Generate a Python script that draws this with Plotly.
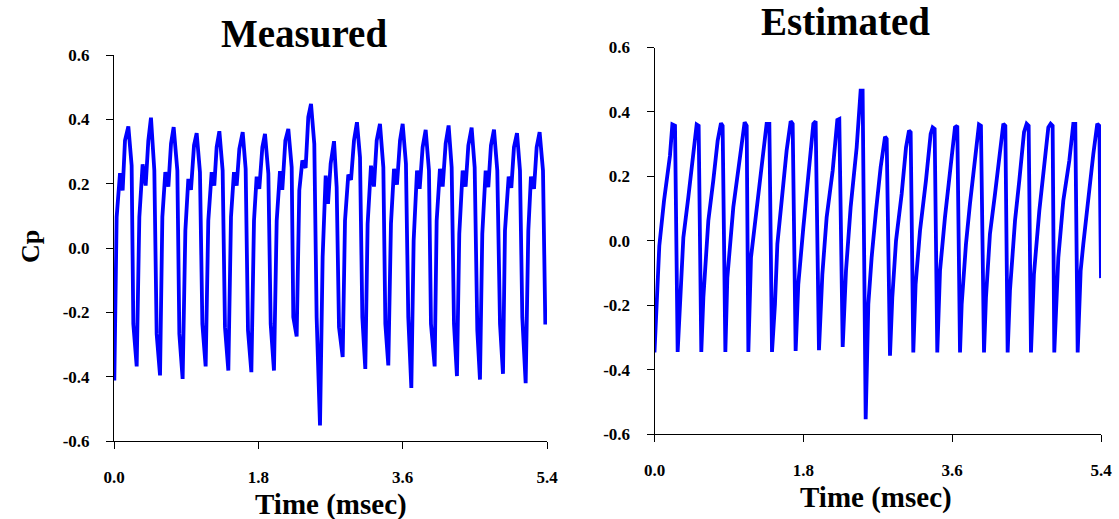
import plotly.graph_objects as go

# ---- Measured (left) ----
t_measured = [0.004, 0.033, 0.075, 0.108, 0.137, 0.179, 0.220, 0.241, 0.283,
              0.316, 0.357, 0.395, 0.428, 0.461, 0.503, 0.532, 0.574,
              0.603, 0.640, 0.678, 0.711, 0.744, 0.790, 0.815, 0.856,
              0.890, 0.927, 0.960, 0.998, 1.031, 1.072, 1.102, 1.143,
              1.176, 1.218, 1.251, 1.280, 1.314, 1.355, 1.384, 1.426,
              1.459, 1.496, 1.530, 1.563, 1.605, 1.642, 1.671, 1.713,
              1.746, 1.779, 1.812, 1.850, 1.883, 1.925, 1.954, 1.995,
              2.029, 2.070, 2.099, 2.137, 2.174, 2.216, 2.236, 2.278,
              2.311, 2.349, 2.390, 2.423, 2.457, 2.498, 2.527, 2.569,
              2.602, 2.640, 2.669, 2.702, 2.744, 2.777, 2.806, 2.852,
              2.881, 2.922, 2.956, 2.993, 3.030, 3.068, 3.097, 3.134,
              3.163, 3.205, 3.242, 3.276, 3.317, 3.359, 3.384, 3.421,
              3.454, 3.492, 3.529, 3.567, 3.600, 3.641, 3.670, 3.708,
              3.737, 3.779, 3.812, 3.849, 3.887, 3.928, 3.953, 3.999,
              4.024, 4.065, 4.099, 4.136, 4.173, 4.211, 4.240, 4.277,
              4.306, 4.348, 4.385, 4.419, 4.460, 4.498, 4.531, 4.564,
              4.593, 4.635, 4.668, 4.701, 4.739, 4.780, 4.814, 4.851,
              4.876, 4.922, 4.955, 4.988, 5.026, 5.063, 5.092, 5.134,
              5.167, 5.200, 5.238, 5.271, 5.308, 5.350, 5.379]
cp_measured = [-0.412, 0.096, 0.233, 0.179, 0.334, 0.378, 0.256, -0.236, -0.368,
               0.096, 0.260, 0.194, 0.334, 0.405, 0.241, -0.267, -0.396,
               0.096, 0.236, 0.191, 0.324, 0.376, 0.241, -0.267, -0.407,
               0.054, 0.215, 0.181, 0.319, 0.357, 0.236, -0.236, -0.368,
               0.085, 0.236, 0.194, 0.313, 0.363, 0.241, -0.246, -0.381,
               0.096, 0.236, 0.194, 0.308, 0.360, 0.246, -0.256, -0.386,
               0.085, 0.222, 0.184, 0.313, 0.355, 0.231, -0.236, -0.381,
               0.085, 0.239, 0.181, 0.334, 0.370, 0.251, -0.215, -0.275,
               0.179, 0.272, 0.249, 0.407, 0.448, 0.324, -0.215, -0.552,
               -0.028, 0.225, 0.137, 0.262, 0.332, 0.189, -0.246, -0.339,
               0.085, 0.228, 0.212, 0.334, 0.391, 0.282, -0.215, -0.376,
               0.075, 0.256, 0.191, 0.334, 0.386, 0.251, -0.236, -0.365,
               0.075, 0.246, 0.197, 0.334, 0.386, 0.262, -0.215, -0.435,
               0.023, 0.241, 0.184, 0.313, 0.367, 0.241, -0.236, -0.368,
               0.085, 0.246, 0.191, 0.324, 0.381, 0.251, -0.236, -0.398,
               0.044, 0.241, 0.191, 0.319, 0.374, 0.251, -0.256, -0.409,
               0.044, 0.241, 0.189, 0.319, 0.368, 0.241, -0.236, -0.391,
               0.054, 0.222, 0.187, 0.313, 0.357, 0.241, -0.215, -0.420,
               0.054, 0.222, 0.184, 0.313, 0.360, 0.241, -0.238]

# ---- Estimated (right) ----
t_estimated = [0.000, 0.058, 0.115, 0.187, 0.216, 0.248, 0.280,
               0.308, 0.349, 0.409, 0.462, 0.510, 0.534, 0.566,
               0.591, 0.651, 0.711, 0.764, 0.804, 0.824, 0.857,
               0.881, 0.953, 1.018, 1.066, 1.090, 1.115, 1.135,
               1.167, 1.236, 1.308, 1.356, 1.389, 1.421,
               1.457, 1.486, 1.538, 1.598, 1.647, 1.671, 1.707,
               1.739, 1.800, 1.860, 1.921, 1.949, 1.989,
               2.030, 2.082, 2.155, 2.211, 2.235, 2.276,
               2.316, 2.372, 2.445, 2.493, 2.517, 2.554,
               2.586, 2.626, 2.679, 2.735, 2.788, 2.808, 2.848,
               2.876, 2.921, 2.989, 3.042, 3.078, 3.098, 3.130,
               3.158, 3.211, 3.283, 3.340, 3.364, 3.388, 3.420,
               3.453, 3.513, 3.582, 3.634, 3.662, 3.695,
               3.715, 3.767, 3.815, 3.876, 3.924, 3.948, 3.985,
               4.009, 4.057, 4.118, 4.178, 4.219, 4.243, 4.271,
               4.299, 4.360, 4.412, 4.469, 4.501, 4.525, 4.553,
               4.589, 4.654, 4.710, 4.763, 4.791, 4.815, 4.835,
               4.884, 4.944, 5.017, 5.065, 5.089, 5.118,
               5.154, 5.186, 5.247, 5.307, 5.355, 5.380, 5.400]
cp_estimated = [-0.347, -0.016, 0.124, 0.264, 0.361, 0.357, -0.345,
                -0.197, 0.010, 0.135, 0.259, 0.361, 0.357, -0.345,
                -0.176, 0.062, 0.187, 0.311, 0.365, 0.357, -0.345,
                -0.114, 0.104, 0.228, 0.332, 0.368, 0.357, -0.345,
                -0.052, 0.093, 0.249, 0.363, 0.363, -0.345,
                -0.197, -0.010, 0.124, 0.280, 0.371, 0.363, -0.342,
                -0.135, 0.041, 0.187, 0.363, 0.371, -0.340,
                -0.104, 0.073, 0.218, 0.375, 0.378, -0.330,
                -0.093, 0.104, 0.290, 0.466, 0.466, -0.554,
                -0.197, -0.052, 0.093, 0.228, 0.323, 0.316, -0.357,
                -0.176, 0.000, 0.145, 0.290, 0.342, 0.337, -0.347,
                -0.135, 0.031, 0.187, 0.332, 0.352, 0.347, -0.347,
                -0.093, 0.073, 0.228, 0.352, 0.357, -0.347,
                -0.197, -0.010, 0.114, 0.259, 0.361, 0.357, -0.347,
                -0.176, 0.021, 0.145, 0.269, 0.363, 0.357, -0.347,
                -0.155, 0.062, 0.187, 0.337, 0.363, 0.357, -0.347,
                -0.104, 0.093, 0.228, 0.352, 0.363, 0.357, -0.347,
                -0.052, 0.124, 0.249, 0.363, 0.363, -0.347,
                -0.093, -0.010, 0.135, 0.269, 0.363, 0.357, -0.116]

titles = ["Measured", "Estimated"]
x_title = "Time (msec)"
y_title = "Cp"
x_ticks = [0.0, 1.8, 3.6, 5.4]
x_ticklabels = ["0.0", "1.8", "3.6", "5.4"]
y_ticks = [-0.6, -0.4, -0.2, 0.0, 0.2, 0.4, 0.6]
y_ticklabels = ["-0.6", "-0.4", "-0.2", "0.0", "0.2", "0.4", "0.6"]

W, H = 1119, 519
FONT = "Liberation Serif, Times New Roman, serif"
BLUE = "#0000FF"

fig = go.Figure()
fig.add_trace(go.Scatter(x=t_measured, y=cp_measured, mode="lines",
                         line=dict(color=BLUE, width=3.8), xaxis="x", yaxis="y",
                         showlegend=False, hoverinfo="skip"))
fig.add_trace(go.Scatter(x=t_estimated, y=cp_estimated, mode="lines",
                         line=dict(color=BLUE, width=3.8), xaxis="x2", yaxis="y2",
                         showlegend=False, hoverinfo="skip"))

def px(x):
    return x / W

def py(y):
    return 1 - y / H

bold = lambda s: "<b>" + s + "</b>"
tickfont = dict(family=FONT, size=17, color="black")
common_x = dict(range=[0, 5.4], tickmode="array", tickvals=x_ticks,
                ticktext=[bold(s) for s in x_ticklabels],
                ticks="outside", ticklen=7, tickcolor="black", showline=True,
                linecolor="black", linewidth=1, showgrid=False, zeroline=False,
                tickfont=tickfont, automargin=False, ticklabelstandoff=14, fixedrange=True)
common_y = dict(range=[-0.6, 0.6], tickmode="array", tickvals=y_ticks,
                ticktext=[bold(s) for s in y_ticklabels],
                ticks="outside", ticklen=7, tickcolor="black", showline=True,
                linecolor="black", linewidth=1, showgrid=False, zeroline=False,
                tickfont=tickfont, automargin=False, ticklabelstandoff=13, fixedrange=True)

fig.update_layout(
    width=W, height=H,
    margin=dict(l=0, r=0, t=0, b=0),
    paper_bgcolor="white", plot_bgcolor="white",
    xaxis=dict(domain=[px(114), px(547)], anchor="y", **common_x),
    yaxis=dict(domain=[py(441), py(55)], anchor="x", **common_y),
    xaxis2=dict(domain=[px(654.5), px(1101)], anchor="y2", **common_x),
    yaxis2=dict(domain=[py(434), py(47.5)], anchor="x2", **common_y),
    annotations=[
        dict(text=bold(titles[0]), x=px(303.5), y=py(33), xref="paper", yref="paper",
             showarrow=False, xanchor="center", yanchor="middle",
             font=dict(family=FONT, size=39, color="black")),
        dict(text=bold(titles[1]), x=px(846), y=py(22), xref="paper", yref="paper",
             showarrow=False, xanchor="center", yanchor="middle",
             font=dict(family=FONT, size=39, color="black")),
        dict(text=bold(x_title), x=px(330.5), y=py(504), xref="paper", yref="paper",
             showarrow=False, xanchor="center", yanchor="middle",
             font=dict(family=FONT, size=29, color="black")),
        dict(text=bold(x_title), x=px(876), y=py(497), xref="paper", yref="paper",
             showarrow=False, xanchor="center", yanchor="middle",
             font=dict(family=FONT, size=29, color="black")),
        dict(text=bold(y_title), x=px(30), y=py(247), xref="paper", yref="paper",
             showarrow=False, xanchor="center", yanchor="middle", textangle=-90,
             font=dict(family=FONT, size=26, color="black")),
    ],
)

fig.write_html("out.html")
